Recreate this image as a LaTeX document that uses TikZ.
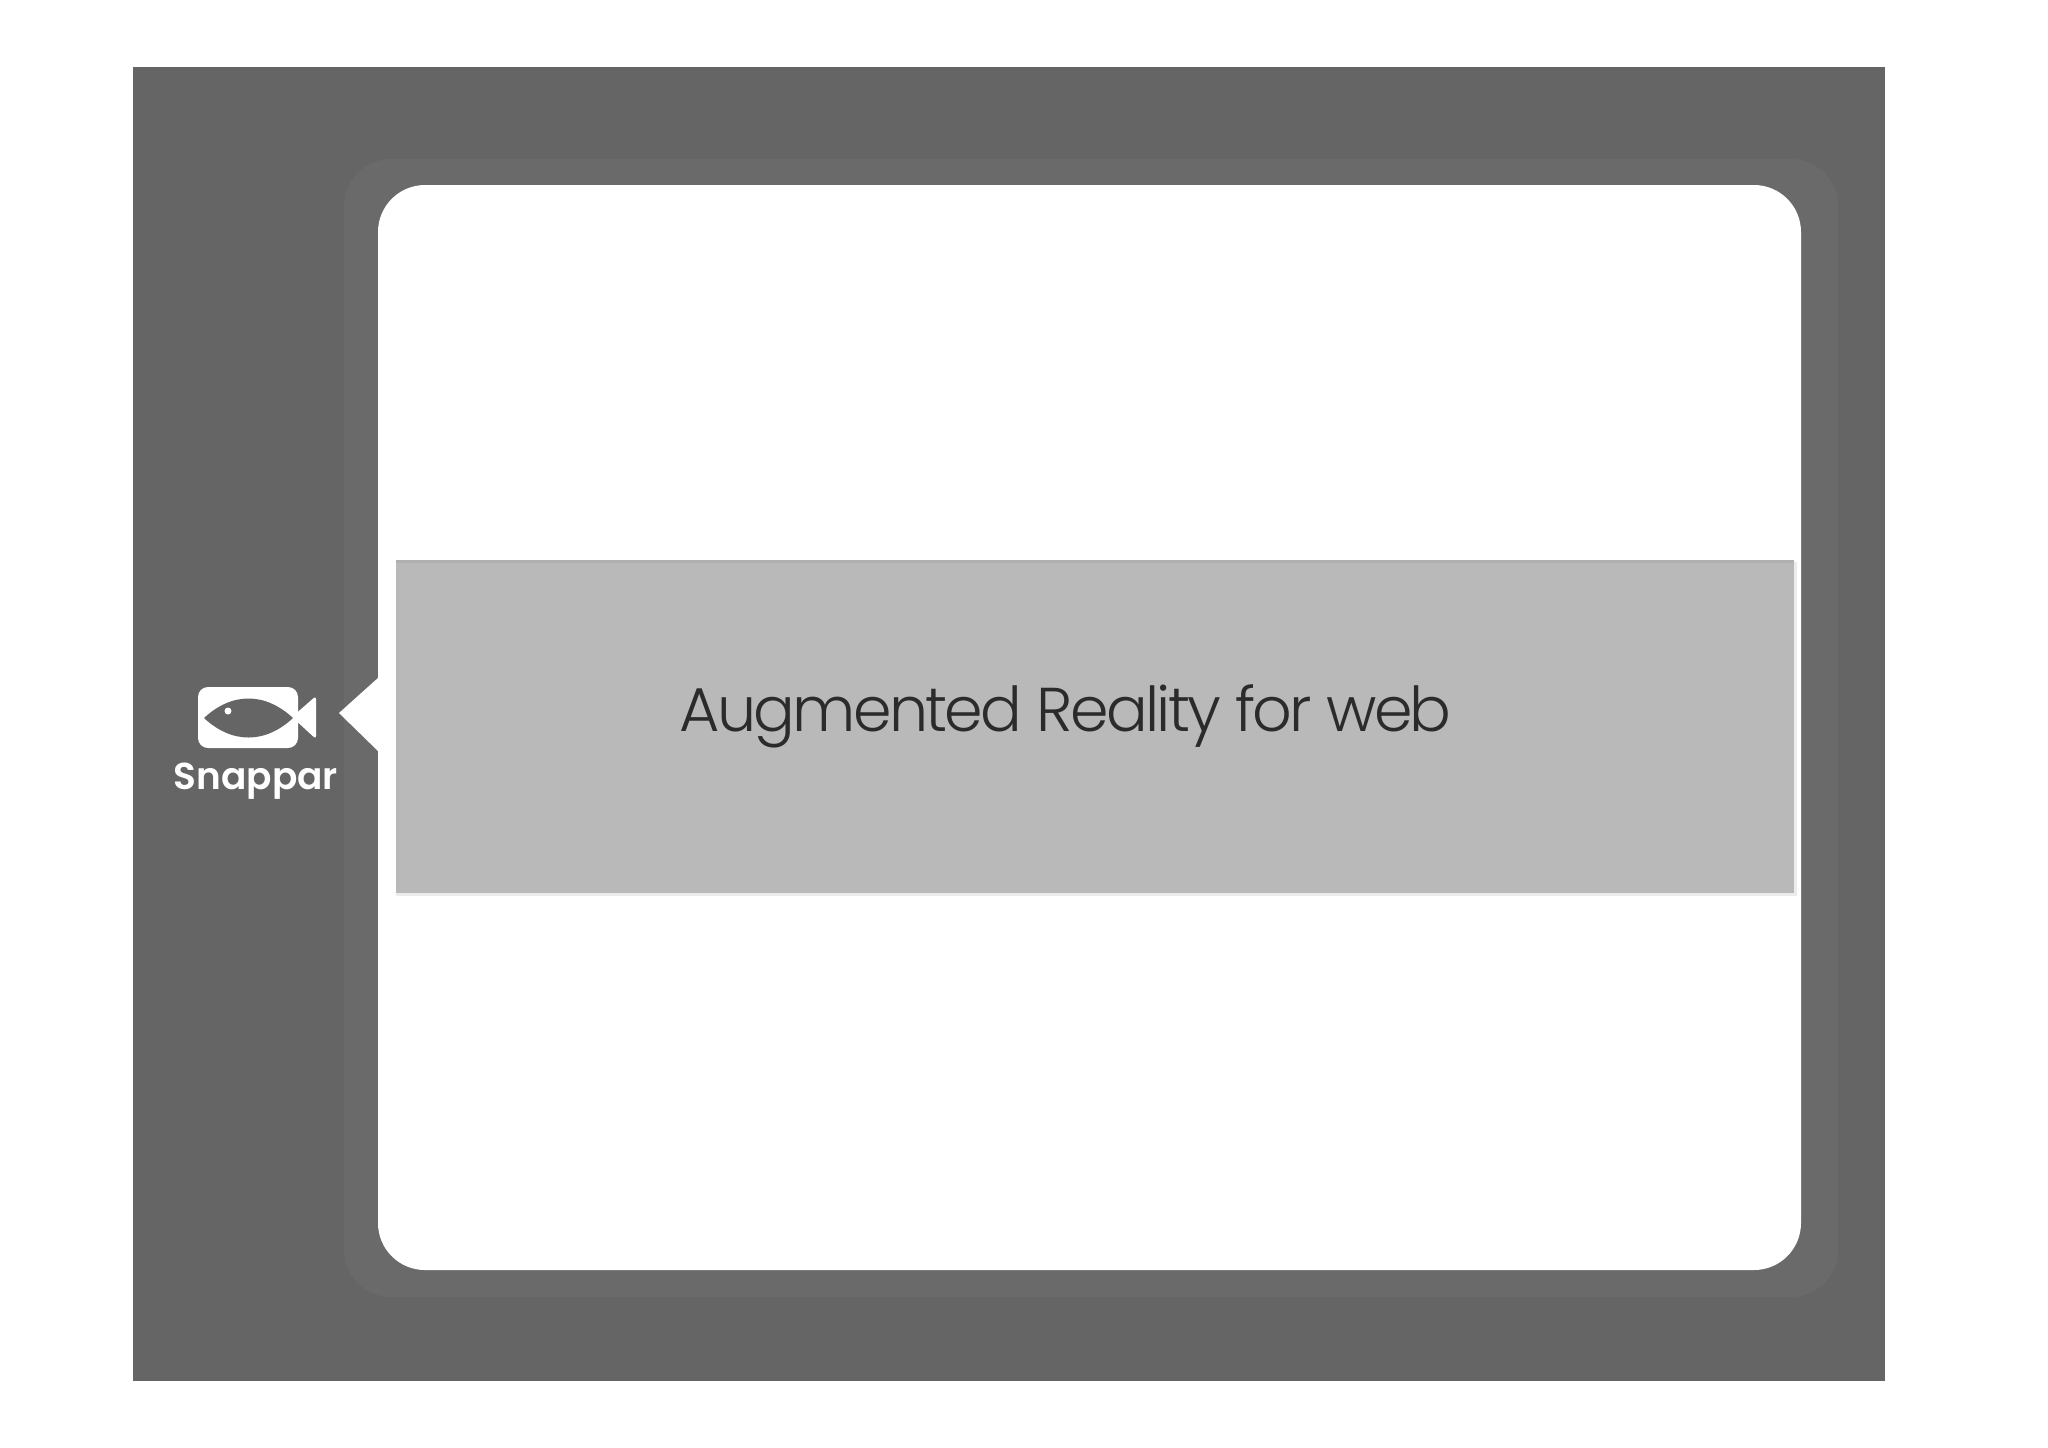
\documentclass[tikz,border=0pt]{standalone}
\usepackage{fontspec}
\newfontfamily\bandfont[LetterSpace=-4.4]{Poppins Light}
\newfontfamily\logofont{Poppins SemiBold}
\definecolor{slidegray}{HTML}{656565}
\definecolor{halogray}{HTML}{6A6A6A}
\definecolor{bandgray}{HTML}{B9B9B9}
\definecolor{bandedge}{HTML}{B0B0B0}
\definecolor{bandshade}{HTML}{ECECEC}
\definecolor{inkgray}{HTML}{2B2B2B}
\tikzset{
    panel/.style={rounded corners=0.47cm},
    logotext/.style={inner sep=0pt,anchor=base west,text=white,font=\logofont\fontsize{10.65}{12}\selectfont},
    bandtext/.style={inner sep=0pt,anchor=base west,text=inkgray,font=\bandfont\fontsize{17.6}{20}\selectfont},
}
\begin{document}
\begin{tikzpicture}[x=0.01cm,y=-0.01cm]
        \useasboundingbox (0,0) rectangle (2048,1447);
        \fill[white] (0,0) rectangle (2048,1447);
        %% Frame
        \fill[slidegray] (133,67) rectangle (1885,1381);
        \fill[halogray,panel] (344,159) rectangle (1838,1297);
        \fill[white,panel] (378,185) rectangle (1801,1270);
        \fill[white] (339,713) -- (379,677) -- (379,752) -- cycle;
        %% Band
        \begin{scope}
            \fill[bandshade] (396,562) rectangle (1797,896);
            \fill[bandgray] (396,560) rectangle (1794,893);
            \fill[bandedge] (396,560) rectangle (1794,563);
            \node[bandtext] (title) at (679,731) {Augmented Reality for web};
        \end{scope}
        %% Logo
        \begin{scope}
            \fill[white,rounded corners=0.1cm] (198,687) rectangle (298,748);
            \fill[white,rounded corners=0.03cm] (292,717) -- (316,696) -- (316,739) -- cycle;
            \fill[slidegray] (204,718) .. controls (232,692) and (265,692) .. (293,718)
                .. controls (265,744) and (232,744) .. (204,718) -- cycle;
            \fill[white] (228,711) circle (3.5);
            \node[logotext] (logo) at (173,789) {Snappar};
        \end{scope}
    \end{tikzpicture}
\end{document}
